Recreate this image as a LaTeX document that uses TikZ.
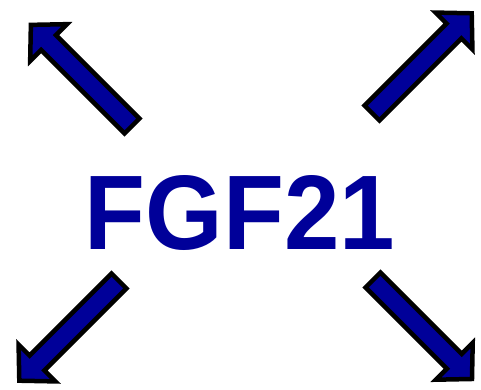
\documentclass[tikz,border=0pt]{standalone}
\usepackage{fontspec}
\setmainfont{Liberation Sans}
\definecolor{fgfblue}{RGB}{0,0,153}
\tikzset{
  blockarr/.style={draw=black, fill=fgfblue, line width=4.5pt, line join=miter},
  title/.style={text=fgfblue, font=\bfseries\fontsize{106}{110}\selectfont, inner sep=0pt, anchor=base, xscale=0.94}
}
\newcommand{\blockarrow}[3]{% tail, angle, length
  \draw[blockarr, shift={#1}, rotate=#2]
    (0,10.5) -- (#3-25,10.5) -- (#3-25,26) -- (#3,0) -- (#3-25,-26) -- (#3-25,-10.5) -- (0,-10.5) -- cycle;
}
\begin{document}
\begin{tikzpicture}[x=1pt,y=1pt]
  \useasboundingbox (0,0) rectangle (481,390);
  \blockarrow{(132,264)}{135}{143}
  \blockarrow{(372,277)}{45}{141}
  \blockarrow{(119,109)}{225}{141}
  \blockarrow{(373,110)}{-45}{140}
  \node[title] (fgf) at (240,140) {FGF21};
\end{tikzpicture}
\end{document}
